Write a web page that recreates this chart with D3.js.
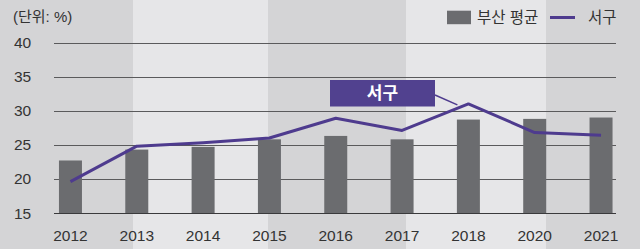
<!DOCTYPE html>
<html><head><meta charset="utf-8">
<script src="https://cdn.jsdelivr.net/npm/d3@7"></script>
<style>
body{margin:0;padding:0;overflow:hidden;}
svg{display:block;font-family:"Liberation Sans","Noto Sans CJK KR",sans-serif;}
</style></head><body>
<script>
const categories = ["2012","2013","2014","2015","2016","2017","2018","2020","2021"];
const busanAvg = [22.7, 24.3, 24.7, 25.8, 26.3, 25.8, 28.7, 28.8, 29.0];
const seogu = [19.6, 24.8, 25.3, 26.0, 28.9, 27.1, 31.0, 26.8, 26.4];
const yTicks = [15, 20, 25, 30, 35, 40];
const seriesNames = ["부산 평균", "서구"];
const unitLabel = "(단위: %)";
const calloutLabel = "서구";

const W = 640, H = 249;
const svg = d3.select("body").append("svg").attr("width", W).attr("height", H);

// background bands
const bands = [[0,133,"#d4d4d6"],[133,268,"#e6e6e8"],[268,406,"#d4d4d6"],[406,546,"#e6e6e8"],[546,640,"#d4d4d6"]];
svg.selectAll("rect.bg").data(bands).enter().append("rect")
  .attr("x", d=>d[0]).attr("y",0).attr("width", d=>d[1]-d[0]).attr("height",H).attr("fill", d=>d[2]);

const x = d3.scaleBand().domain(categories).range([37.3, 634.2]).padding(0);
const y = d3.scaleLinear().domain([15, 40]).range([213, 42.5]);
const barW = 23;

// grid
svg.selectAll("line.grid").data(yTicks).enter().append("line")
  .attr("x1", 54).attr("x2", 616)
  .attr("y1", d=>Math.round(y(d))+0.5).attr("y2", d=>Math.round(y(d))+0.5)
  .attr("stroke", d=> d===15 ? "#3a3a3c" : "#5a5a5c").attr("stroke-width", 1);

// y tick labels
svg.selectAll("text.yt").data(yTicks).enter().append("text")
  .attr("x", 14).attr("y", d=>y(d)+5.5)
  .attr("font-size", 15.5).attr("fill", "#333")
  .text(d=>d);

svg.append("text").attr("x", 13).attr("y", 22).attr("font-size", 15).attr("fill", "#333").text(unitLabel);

// bars
svg.selectAll("rect.bar").data(categories).enter().append("rect")
  .attr("x", d=>x(d)+x.bandwidth()/2-barW/2)
  .attr("y", (d,i)=>y(busanAvg[i]))
  .attr("width", barW)
  .attr("height", (d,i)=>y(15)-y(busanAvg[i]))
  .attr("fill", "#6b6c6f");

// x labels
svg.selectAll("text.xt").data(categories).enter().append("text")
  .attr("x", d=>x(d)+x.bandwidth()/2).attr("y", 241)
  .attr("text-anchor","middle").attr("font-size", 15.5).attr("fill","#333")
  .text(d=>d);

// line
const line = d3.line().x((d,i)=>x(categories[i])+x.bandwidth()/2).y(d=>y(d));
svg.append("path").datum(seogu).attr("d", line)
  .attr("fill","none").attr("stroke","#4e3b8e").attr("stroke-width",3).attr("stroke-linejoin","round");

// callout
const i18 = categories.indexOf("2018");
svg.append("line").attr("x1",435).attr("y1",95).attr("x2",x("2018")+x.bandwidth()/2-11).attr("y2",y(seogu[i18])+1)
  .attr("stroke","#4e3b8e").attr("stroke-width",1.5);
svg.append("rect").attr("x",330).attr("y",80).attr("width",105).attr("height",26.5).attr("fill","#51418f");
svg.append("text").attr("x",382.5).attr("y",99).attr("text-anchor","middle").attr("font-size",17)
  .attr("font-weight","bold").attr("fill","#fff").text(calloutLabel);

// legend
svg.append("rect").attr("x",447).attr("y",10.7).attr("width",24).attr("height",13.5).attr("fill","#6b6c6f");
svg.append("text").attr("x",477).attr("y",23).attr("font-size",15.5).attr("fill","#333").text(seriesNames[0]);
svg.append("line").attr("x1",550).attr("x2",575).attr("y1",17.5).attr("y2",17.5).attr("stroke","#4e3b8e").attr("stroke-width",3);
svg.append("text").attr("x",588).attr("y",23).attr("font-size",15.5).attr("fill","#333").text(seriesNames[1]);
</script>
</body></html>
